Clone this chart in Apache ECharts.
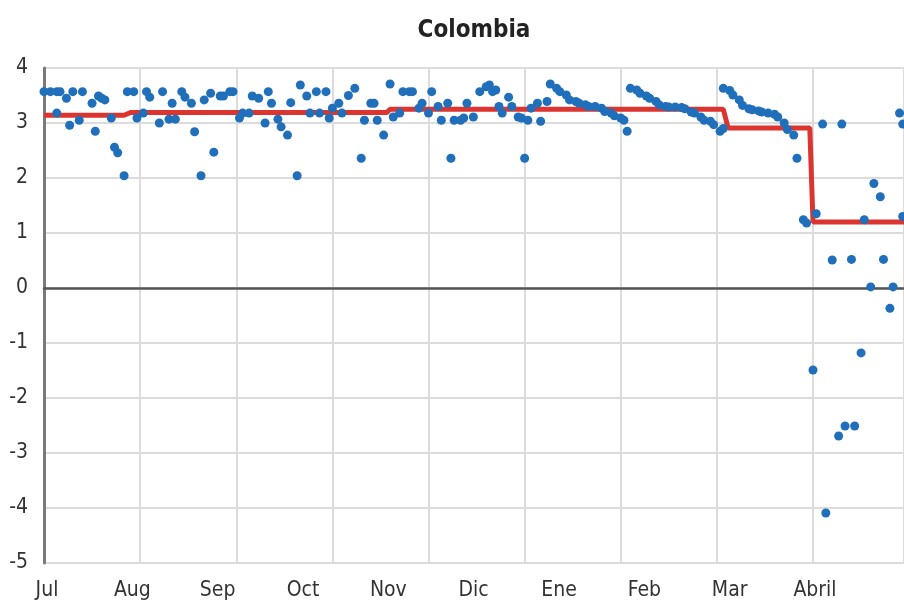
<!DOCTYPE html>
<html>
<head>
<meta charset="utf-8">
<title>Colombia</title>
<script src="https://cdn.jsdelivr.net/npm/echarts@6/dist/echarts.min.js"></script>
<style>
    html, body { margin: 0; padding: 0; background: #fff; }
    #chart { width: 904px; height: 603px; }
</style>
</head>
<body>
<div id="chart"></div>
<script>
// month labels along the bottom
var months = ["Jul", "Aug", "Sep", "Oct", "Nov", "Dic", "Ene", "Feb", "Mar", "Abril"];

// daily observations: day index from start of July, value
var dayX = [0, 2, 4, 4, 5, 7, 8, 9, 11, 12, 15, 16, 17, 18, 19, 21, 22, 23, 25, 26,
    28, 29, 31, 32, 33, 36, 37, 39, 40, 41, 43, 44, 46, 47, 49, 50, 52, 53, 55, 56,
    58, 59, 61, 62, 64, 65, 67, 69, 70, 71, 73, 74, 76, 77, 79, 80, 82, 83, 85, 86,
    88, 89, 90, 92, 93, 95, 97, 99, 100, 102, 103, 104, 106, 108, 109, 111, 112, 114, 115, 117,
    118, 120, 121, 123, 124, 126, 127, 128, 130, 131, 132, 134, 136, 138, 139, 140, 141, 142, 143, 145,
    146, 148, 149, 150, 151, 152, 154, 155, 157, 158, 160, 161, 163, 164, 166, 167, 169, 170, 172, 174,
    175, 177, 178, 180, 181, 182, 183, 185, 186, 188, 189, 191, 192, 194, 195, 197, 199, 200, 202, 203,
    205, 206, 208, 209, 211, 212, 212, 214, 215, 217, 218, 220, 221, 223, 224, 226, 228, 229, 231, 232,
    234, 235, 237, 238, 240, 241, 243, 244, 246, 248, 249, 250, 252, 253, 255, 256, 258, 259, 261, 262,
    264, 265, 267, 268, 268];
var dayVal = [3.57, 3.57, 3.18, 3.57, 3.57, 3.45, 2.96, 3.57, 3.05, 3.57, 3.36, 2.85, 3.49, 3.45, 3.42, 3.09, 2.56, 2.46, 2.04, 3.57,
    3.57, 3.09, 3.18, 3.57, 3.47, 3.00, 3.57, 3.07, 3.36, 3.07, 3.57, 3.47, 3.36, 2.84, 2.04, 3.42, 3.54, 2.47, 3.49, 3.49,
    3.57, 3.57, 3.09, 3.18, 3.18, 3.49, 3.45, 3.00, 3.57, 3.36, 3.07, 2.93, 2.78, 3.37, 2.04, 3.69, 3.49, 3.18, 3.57, 3.18,
    3.57, 3.09, 3.27, 3.36, 3.18, 3.50, 3.63, 2.36, 3.05, 3.36, 3.36, 3.05, 2.78, 3.71, 3.11, 3.18, 3.57, 3.57, 3.57, 3.27,
    3.36, 3.18, 3.57, 3.30, 3.05, 3.36, 2.36, 3.05, 3.05, 3.09, 3.36, 3.11, 3.57, 3.66, 3.69, 3.57, 3.60, 3.30, 3.18, 3.47,
    3.30, 3.11, 3.09, 2.36, 3.05, 3.27, 3.36, 3.03, 3.39, 3.71, 3.63, 3.57, 3.51, 3.42, 3.39, 3.36, 3.33, 3.30, 3.30, 3.27,
    3.21, 3.18, 3.13, 3.09, 3.05, 2.85, 3.63, 3.60, 3.54, 3.49, 3.45, 3.39, 3.33, 3.30, 3.29, 3.29, 3.28, 3.26, 3.20, 3.18,
    3.11, 3.05, 3.03, 2.97, 2.85, 2.90, 3.63, 3.59, 3.51, 3.42, 3.32, 3.26, 3.24, 3.22, 3.20, 3.18, 3.16, 3.11, 3.00, 2.88,
    2.78, 2.36, 1.24, 1.18, -1.49, 1.35, 2.98, -4.09, 0.51, -2.69, 2.98, -2.51, 0.52, -2.51, -1.18, 1.24, 0.02, 1.90, 1.66, 0.52,
    -0.37, 0.02, 3.18, 2.98, 1.30];

// policy-rate style step line (corner points)
var stepX = [0, 25, 27, 107, 108, 212, 213.5, 239, 240, 269];
var stepVal = [3.14, 3.14, 3.19, 3.19, 3.25, 3.25, 2.91, 2.91, 1.2, 1.2];

var chart = echarts.init(document.getElementById("chart"));
var font = "'Liberation Sans Narrow', 'DejaVu Sans Condensed', sans-serif";

var points = dayX.map(function (x, i) { return [x, dayVal[i]]; });
var stepLine = stepX.map(function (x, i) { return [x, stepVal[i]]; });

chart.setOption({
    animation: false,
    title: {
        text: "Colombia",
        left: 469,
        top: 14,
        textAlign: "center",
        textStyle: { fontFamily: font, fontSize: 24, fontWeight: "bold", color: "#222" }
    },
    grid: [
        { left: 44, right: 0, top: 68, bottom: 40 },
        { left: 47, right: 89, top: 68, bottom: 40 }
    ],
    xAxis: [
        {
            type: "value",
            gridIndex: 0,
            min: 0,
            max: 268.4,
            interval: 30,
            axisLine: { show: true, onZero: true, lineStyle: { color: "#555", width: 2.5 } },
            axisTick: { show: false },
            axisLabel: { show: false },
            splitLine: { show: true, lineStyle: { color: "#dcdcdc", width: 2 } }
        },
        {
            type: "category",
            gridIndex: 1,
            data: months,
            boundaryGap: false,
            axisLine: { show: false },
            axisTick: { show: false },
            splitLine: { show: false },
            axisLabel: { interval: 0, margin: 17, fontFamily: font, fontSize: 21, color: "#333" }
        }
    ],
    yAxis: [
        {
            type: "value",
            gridIndex: 0,
            min: -5,
            max: 4,
            interval: 1,
            axisLine: { show: true, lineStyle: { color: "#7a7a7a", width: 3 } },
            axisTick: { show: false },
            axisLabel: { margin: 16, fontFamily: font, fontSize: 21, color: "#333" },
            splitLine: { show: true, lineStyle: { color: "#dcdcdc", width: 2 } }
        },
        { type: "value", gridIndex: 1, show: false }
    ],
    series: [
        {
            type: "line",
            xAxisIndex: 0,
            yAxisIndex: 0,
            data: stepLine,
            symbol: "none",
            lineStyle: { color: "#dc3530", width: 5 },
            z: 2
        },
        {
            type: "scatter",
            xAxisIndex: 0,
            yAxisIndex: 0,
            data: points,
            symbolSize: 9,
            itemStyle: { color: "#1f6fba", opacity: 1 },
            z: 3
        }
    ]
});
</script>
</body>
</html>
